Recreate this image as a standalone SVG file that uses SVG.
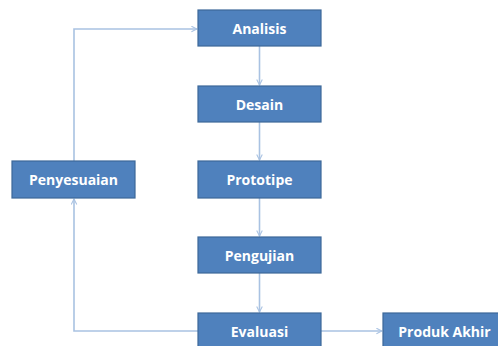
<svg xmlns="http://www.w3.org/2000/svg" width="498" height="346" viewBox="0 0 498 346">
<defs>
<style>
.box{fill:#4F81BD;stroke:#3C6898;stroke-width:1.2}
.lbl{font-family:"Open Sans","Liberation Sans",sans-serif;font-weight:bold;font-size:14px;fill:#FFFFFF;text-anchor:middle;dominant-baseline:central}
.con{fill:none;stroke:#A9C2E2;stroke-width:1.6}
</style>
<marker id="ah" viewBox="0 0 10 10" refX="9" refY="5" markerWidth="7" markerHeight="7" orient="auto" markerUnits="userSpaceOnUse">
<path d="M1,1 L9,5 L1,9" fill="none" stroke="#A9C2E2" stroke-width="1.5"/>
</marker>
</defs>
<rect width="498" height="346" fill="#FFFFFF"/>
<g id="connectors">
<line class="con" x1="259.5" y1="46" x2="259.5" y2="85" marker-end="url(#ah)"/>
<line class="con" x1="259.5" y1="122" x2="259.5" y2="160" marker-end="url(#ah)"/>
<line class="con" x1="259.5" y1="198" x2="259.5" y2="236" marker-end="url(#ah)"/>
<line class="con" x1="259.5" y1="273" x2="259.5" y2="312" marker-end="url(#ah)"/>
<line class="con" x1="320" y1="331" x2="382" y2="331" marker-end="url(#ah)"/>
<polyline class="con" points="198,331 74,331 74,199" marker-end="url(#ah)"/>
<polyline class="con" points="74,161 74,29 197,29" marker-end="url(#ah)"/>
</g>
<g id="analisis"><rect class="box" x="198" y="10" width="123" height="36"/><text class="lbl" x="259.5" y="28">Analisis</text></g>
<g id="desain"><rect class="box" x="198" y="86" width="123" height="36"/><text class="lbl" x="259.5" y="104">Desain</text></g>
<g id="prototipe"><rect class="box" x="198" y="161" width="123" height="37"/><text class="lbl" x="259.5" y="179.5">Prototipe</text></g>
<g id="pengujian"><rect class="box" x="198" y="237" width="123" height="36"/><text class="lbl" x="259.5" y="255">Pengujian</text></g>
<g id="evaluasi"><rect class="box" x="198" y="313" width="123" height="36"/><text class="lbl" x="259.5" y="331">Evaluasi</text></g>
<g id="penyesuaian"><rect class="box" x="12" y="161" width="123" height="37"/><text class="lbl" x="73.5" y="179.5">Penyesuaian</text></g>
<g id="produk-akhir"><rect class="box" x="383" y="313" width="123" height="36"/><text class="lbl" x="444.5" y="331">Produk Akhir</text></g>
</svg>
